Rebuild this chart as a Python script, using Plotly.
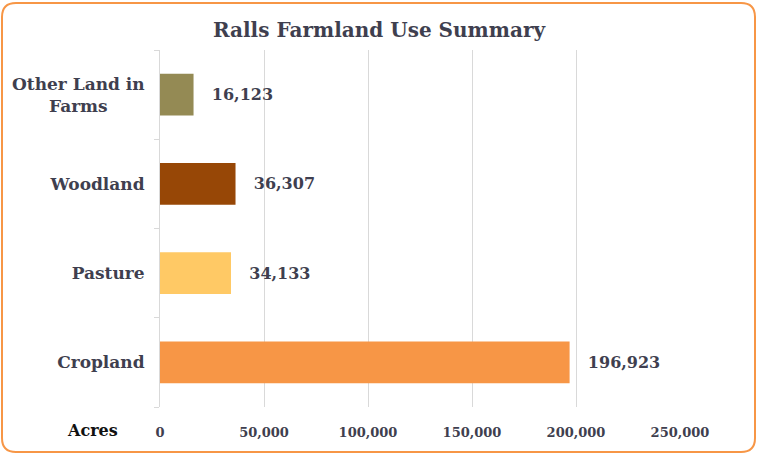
import plotly.graph_objects as go

categories = ["Cropland", "Pasture", "Woodland", "Other Land in<br>Farms"]
acres = [196923, 34133, 36307, 16123]
bar_colors = ["#F79646", "#FFC965", "#974706", "#948A54"]
x_ticks = [0, 50000, 100000, 150000, 200000, 250000]
x_tick_labels = ["0", "50,000", "100,000", "150,000", "200,000", "250,000"]

W, H = 758, 455
L, R, T, B = 160, 78, 50, 48
FONT = "Georgia, 'DejaVu Serif', serif"
TXT = "#3F3F4F"

fig = go.Figure(go.Bar(
    y=categories, x=acres, orientation="h",
    marker=dict(color=bar_colors, line=dict(width=0)),
    width=0.47,
    text=[f"{v:,}" for v in acres],
    texttemplate="   <b>%{text}</b>",
    textposition="outside",
    textfont=dict(family=FONT, size=16, color=TXT),
    cliponaxis=False,
))

pw = W - L - R
ph = H - T - B
def px2x(px):
    return (px - L) / pw
def px2y(py):
    return 1 - (py - T) / ph

# rounded border
x0, x1, y0, y1, r = 2, 755, 3, 452, 14
path = (f"M {px2x(x0+r)},{px2y(y0)} L {px2x(x1-r)},{px2y(y0)} "
        f"Q {px2x(x1)},{px2y(y0)} {px2x(x1)},{px2y(y0+r)} "
        f"L {px2x(x1)},{px2y(y1-r)} Q {px2x(x1)},{px2y(y1)} {px2x(x1-r)},{px2y(y1)} "
        f"L {px2x(x0+r)},{px2y(y1)} Q {px2x(x0)},{px2y(y1)} {px2x(x0)},{px2y(y1-r)} "
        f"L {px2x(x0)},{px2y(y0+r)} Q {px2x(x0)},{px2y(y0)} {px2x(x0+r)},{px2y(y0)} Z")

# multi-line labels are drawn centred as annotations; single-line ones as tick labels
tick_text = [("" if "<br>" in c else f"<b>{c}</b>") for c in categories]
label_annotations = [
    dict(text=f"<b>{c}</b>", xref="paper", yref="y", x=px2x(78), y=c,
         xanchor="center", yanchor="middle", align="center", showarrow=False,
         font=dict(family=FONT, size=17, color=TXT))
    for c in categories if "<br>" in c
]

fig.update_layout(
    width=W, height=H,
    margin=dict(l=L, r=R, t=T, b=B),
    paper_bgcolor="white", plot_bgcolor="white",
    showlegend=False,
    title=dict(text="<b>Ralls Farmland Use Summary</b>", x=0.5, xanchor="center",
               y=1 - 30 / H, yanchor="middle",
               font=dict(family=FONT, size=20, color=TXT)),
    font=dict(family=FONT, color=TXT),
    xaxis=dict(range=[0, 250000], tickvals=x_ticks, ticktext=[f"<b>{t}</b>" for t in x_tick_labels],
               showgrid=True, gridcolor="#D9D9D9", gridwidth=1,
               zeroline=False, showline=False, ticks="",
               ticklabelstandoff=16,
               tickfont=dict(family=FONT, size=13, color=TXT)),
    yaxis=dict(ticktext=tick_text, tickvals=categories,
               showline=True, linecolor="#D9D9D9", linewidth=1,
               ticks="outside", tickson="boundaries", ticklen=5, tickcolor="#D9D9D9",
               ticklabelstandoff=11,
               tickfont=dict(family=FONT, size=17, color=TXT)),
    shapes=[dict(type="path", xref="paper", yref="paper", path=path,
                 line=dict(color="#F79646", width=2), fillcolor="rgba(0,0,0,0)", layer="above")],
    annotations=[dict(text="<b>Acres</b>", xref="paper", yref="paper",
                      x=px2x(92), y=px2y(430), xanchor="center", yanchor="middle",
                      showarrow=False, font=dict(family=FONT, size=16, color="#111111"))]
                + label_annotations,
)

fig.write_html("out.html", config={"displayModeBar": False},
               post_script="document.body.style.margin='0';")
